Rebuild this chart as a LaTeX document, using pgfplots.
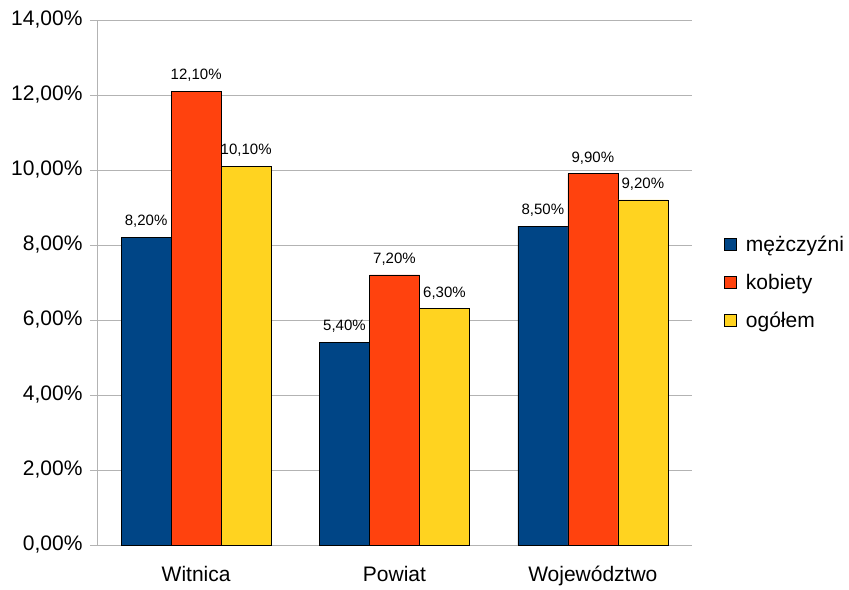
\documentclass[border=0pt]{standalone}
\usepackage{pgfplots}
\pgfplotsset{compat=1.18}
\usepackage{fontspec}
\setmainfont{Liberation Sans}
\definecolor{cblue}{HTML}{004586}
\definecolor{cred}{HTML}{FF420E}
\definecolor{cyel}{HTML}{FFD320}
\definecolor{gridg}{HTML}{B3B3B3}
\begin{document}
\begin{tikzpicture}
\begin{axis}[
  at={(0pt,0pt)}, anchor=origin,
  scale only axis,
  width=595pt, height=525pt,
  xmin=0, xmax=3, ymin=0, ymax=14,
  ybar=0pt, bar width=50pt,
  axis x line=bottom, axis y line=left,
  axis line style={-, draw=gridg},
  ytick={0,2,...,14},
  ymajorgrids, grid style={draw=gridg, line width=0.6pt},
  tick style={draw=gridg, line width=0.6pt},
  tick align=outside,
  major tick length=7pt,
  /pgf/number format/assume math mode=true,
  yticklabel={\pgfmathprintnumber[fixed,fixed zerofill,precision=2,use comma]{\tick}\%},
  ticklabel style={font=\fontsize{21}{25}\selectfont},
  yticklabel style={xshift=-4pt},
  xtick={0.5,1.5,2.5},
  xticklabels={Witnica,Powiat,Województwo},
  x tick style={draw=none},
  xticklabel style={yshift=-11pt},
  extra x ticks={0,1,2,3},
  extra x tick labels={},
  extra x tick style={tick style={draw=gridg}, major tick length=7pt, grid=none},
  nodes near coords={\pgfmathprintnumber[fixed,fixed zerofill,precision=2,use comma]{\pgfplotspointmeta}\%},
  every node near coord/.append style={font=\fontsize{15}{18}\selectfont, color=black, anchor=south, yshift=6pt},
  legend style={at={(1.054,0.5)}, anchor=west, draw=none, fill=none,
    font=\fontsize{21}{25}\selectfont, row sep=17pt, inner sep=0pt,
    legend cell align=left},
  legend image code/.code={\draw[#1, draw=black, line width=0.6pt] (0pt,-6pt) rectangle (12pt,6pt); \path (19pt,0pt);},
  every axis plot/.append style={draw=black, line width=0.6pt},
  clip=false,
]
\addplot[fill=cblue] coordinates {(0.5,8.2) (1.5,5.4) (2.5,8.5)};
\addplot[fill=cred] coordinates {(0.5,12.1) (1.5,7.2) (2.5,9.9)};
\addplot[fill=cyel] coordinates {(0.5,10.1) (1.5,6.3) (2.5,9.2)};
\legend{mężczyźni,kobiety,ogółem}
\end{axis}
\path[use as bounding box] (-97pt,-41pt) rectangle (752pt,545pt);
\end{tikzpicture}
\end{document}
